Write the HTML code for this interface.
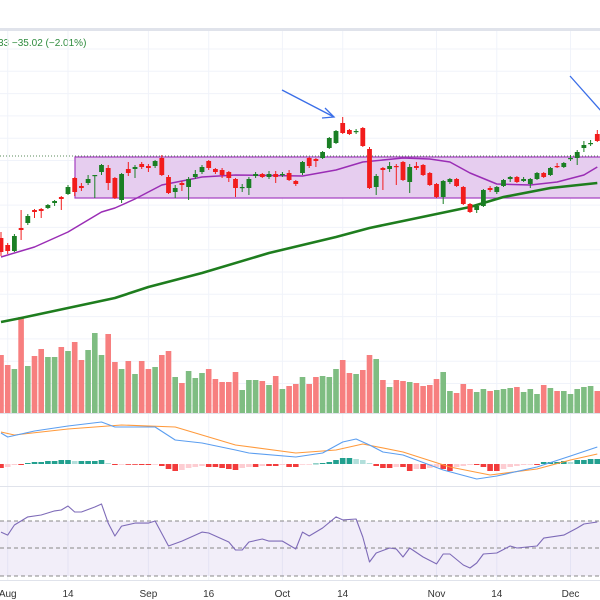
<!DOCTYPE html>
<html><head><meta charset="utf-8"><style>
html,body{margin:0;padding:0;background:#fff;}
svg{display:block;font-family:"Liberation Sans",sans-serif;}
</style></head><body>
<svg id="chart" width="600" height="600" viewBox="0 0 600 600" xmlns="http://www.w3.org/2000/svg">
<rect x="0" y="0" width="600" height="600" fill="#fff"/>
<rect x="0" y="28" width="600" height="3" fill="#e0e3eb"/>
<text x="-2" y="46" font-size="10" fill="#2e8b3e">33 &#8722;35.02 (&#8722;2.01%)</text>
<g id="grid"></g>
<rect x="75" y="157" width="530" height="41" fill="#e6cdef" stroke="#a43ec0" stroke-width="1.2"/>
<line x1="0" y1="156" x2="600" y2="156" stroke="#5a8a5a" stroke-width="1" stroke-dasharray="1,2"/>
<g id="vol"></g><g id="ma"></g><g id="candles"></g>
<g stroke="#3a6ee8" stroke-width="1.3" fill="none">
<line x1="282" y1="90" x2="334" y2="117"/><polyline points="325,108 334,117 322,118"/></g>
<g stroke="#3a6ee8" stroke-width="1.3" fill="none">
<line x1="570" y1="76" x2="602" y2="112"/></g>
<line x1="0" y1="413.5" x2="600" y2="413.5" stroke="#e0e3eb"/>
<g id="macd"></g>
<line x1="0" y1="486.5" x2="600" y2="486.5" stroke="#e0e3eb"/>
<rect x="0" y="521" width="600" height="55" fill="#7e57c2" fill-opacity="0.1"/>
<line x1="0" y1="521" x2="600" y2="521" stroke="#888" stroke-dasharray="4,3"/>
<line x1="0" y1="548" x2="600" y2="548" stroke="#888" stroke-dasharray="4,3"/>
<line x1="0" y1="576" x2="600" y2="576" stroke="#888" stroke-dasharray="4,3"/>
<g id="rsi"></g>
<line x1="0" y1="580.5" x2="600" y2="580.5" stroke="#e0e3eb"/>
<g id="xaxis"></g>
</svg>
<script>
const open=[162,155,149,172,177,190,191,192,197,203,206,222,214,217,224,228,232,222,200,231,231,236,234,234,242,223,208,217,213,223,228,239,231,230,228,221,212,212,224,226,223,226,225,227,219,227,242,241,242,252,257,277,270,268,272,251,213,232,231,234,238,218,234,235,227,216,203,218,221,213,196,190,194,212,208,214,221,223,219,216,221,227,225,234,233,241,242,252,256,266];
const high=[168,157,166,190,186,191,192,196,200,204,215,223,217,225,225,236,235,223,227,238,235,238,236,240,245,225,215,219,223,230,235,240,232,232,229,222,216,223,228,227,229,229,228,230,220,239,243,242,249,263,270,283,271,271,273,253,226,233,238,236,239,236,238,236,228,217,220,222,222,214,197,196,211,214,214,221,224,224,223,222,228,228,233,237,238,245,250,259,260,270];
const low=[144,146,148,160,175,182,182,191,194,190,205,204,209,215,202,225,210,201,197,224,222,231,228,232,224,206,202,209,200,221,226,230,226,222,218,203,208,205,222,222,221,217,223,219,214,225,232,233,241,251,256,266,265,266,253,211,205,210,228,215,219,207,230,224,214,202,196,216,213,195,187,187,193,208,206,213,218,217,218,212,220,222,224,232,232,239,235,248,254,258];
const close=[148,149,164,170,184,188,189,195,199,201,213,208,212,221,225,235,217,202,226,227,233,233,232,239,225,207,212,215,221,226,233,232,228,225,222,212,213,221,226,223,226,223,226,220,216,238,234,239,248,262,269,267,266,269,254,212,224,230,234,233,220,233,232,225,215,203,219,221,214,196,188,194,210,210,213,220,223,218,221,221,227,223,232,233,237,242,248,255,257,259];
const volume=[58,48,44,96,47,57,64,56,56,66,62,71,53,63,80,58,79,51,44,52,39,52,44,46,58,62,36,30,42,35,40,44,34,31,31,41,23,33,33,32,28,37,24,27,29,36,29,36,37,36,44,53,40,39,43,58,54,33,26,33,32,31,30,27,28,34,41,22,20,29,24,21,24,22,23,24,25,26,21,24,19,28,25,22,22,19,24,26,27,22];
const ma20Idx=[0,5,10,15,17,20,24,30,35,45,50,54,60,64,67,70,74,79,83,87,89];
const ma20=[143,153,168,188,192,201,215,223,225,224,230,238,242,241,238,227,216,215,218,225,233];
const ma50Idx=[0,3,10,17,22,30,40,50,55,60,70,75,82,89];
const ma50=[78,82,92,102,113,127,147,163,172,179,193,203,212,217];
const macdIdx=[0,1,5,10,15,17,23,26,30,35,37,44,48,51,53,55,57,60,66,71,74,80,85,89];
const macdLine=[31,27,33,38,42,37,37,24,21,14,11,7,11,22,25,19,12,9,-6,-15,-12,-3,8,17];
const signalIdx=[0,2,10,18,26,35,44,50,54,60,67,73,80,85,89];
const signalLine=[32,29,35,39,37,19,11,14,20,12,-3,-11,-5,4,10];
const hist=[-4,-3,-1,-1,1,2,2,3,3,4,4,3,3,3,3,4,1,-1,-0.5,-0.5,-0.5,-1,-1,-0.5,-2,-5,-7,-6,-4,-3,-2,-3,-3,-4,-5,-6,-4,-3,-3,-2,-2,-2,-1,-3,-3,-0.5,-0.3,0.5,1,2,4,6,6,5,4,1,-2,-4,-4,-3,-3,-7,-5,-5,-4,-3,-5,-7,-3,-2,-1,-1,-3,-7,-7,-5,-3,-2,-1,-0.5,-1,2,2,2,3,2,4,4,5,5];
const rsiIdx=[0,1,2,4,6,8,9,10,11,12,14,15,16,17,18,20,22,23,25,27,30,31,34,35,36,37,39,40,42,44,45,46,48,50,51,53,54,55,56,58,59,60,61,63,65,66,67,69,70,71,72,74,76,77,80,81,84,86,87,89];
const rsi=[61.7,59.5,66.9,72.8,74.2,77.2,77.9,80.8,76.4,76.4,80.1,82.3,68.3,58.8,66.1,68.3,68.3,69.8,51.5,55.1,61.7,61,54.4,48.5,48.5,54.4,56.6,55.1,55.1,49.3,61.7,58.8,64.7,72.8,70.6,71.3,58.1,39.7,46.3,50,49.3,43.4,50,43.4,38.3,45.6,45.6,37.5,35.3,39,45.6,46.3,51.5,50,51.5,57.3,59.5,64.7,67.6,69.1];
const tickLabels=["Aug","14","Sep","16","Oct","14","Nov","14","Dec"];
const tickIdx=[1,10,22,31,42,51,65,74,85];

const NS="http://www.w3.org/2000/svg";
const xS=i=>1+i*6.7;
const yP=p=>400-p;
const yV=v=>413-v;
const yM=m=>464-m;
const yR=r=>548-(r-50)*1.3625;
function mk(tag,attrs,parent){const e=document.createElementNS(NS,tag);for(const k in attrs)e.setAttribute(k,attrs[k]);document.getElementById(parent).appendChild(e);return e;}

// grid
for(let k=0;k<tickIdx.length;k++){
  const g=mk('line',{x1:xS(tickIdx[k]),x2:xS(tickIdx[k]),y1:31,y2:580,stroke:'#f0f3fa'},'grid');
  
  
}
for(let y=49;y<413;y+=22.3){
  const g=mk('line',{x1:0,x2:600,y1:y,y2:y,stroke:'#f0f3fa'},'grid');
  
  
}
// volume
for(let i=0;i<volume.length;i++){
  const up=close[i]>=open[i];
  const r=mk('rect',{x:xS(i)-2.8,y:yV(volume[i]),width:5.6,height:volume[i],fill:up?'#7fbd82':'#f77f7f'},'vol');
  
  
}
// MAs
function line(idx,vals,ys,stroke,w,parent,name){
  const pts=idx.map((ix,k)=>xS(ix).toFixed(1)+','+ys(vals[k]).toFixed(1)).join(' ');
  const p=mk('polyline',{points:pts,fill:'none',stroke:stroke,'stroke-width':w,'stroke-linejoin':'round'},parent);
  
  
}
line(ma50Idx,ma50,yP,'#1e7d1e',2.6,'ma','moving-average-50');
line(ma20Idx,ma20,yP,'#9a2db5',1.5,'ma','moving-average-20');
// candles
for(let i=0;i<open.length;i++){
  const up=close[i]>=open[i];const c=up?'#1a7f24':'#f21c1c';
  const x=xS(i);
  const w=mk('line',{x1:x,x2:x,y1:yP(high[i]),y2:yP(low[i]),stroke:c,'stroke-width':1},'candles');
  
  
  const t=Math.min(yP(open[i]),yP(close[i]));const h=Math.max(1.2,Math.abs(open[i]-close[i]));
  const b=mk('rect',{x:x-2.4,y:t,width:4.8,height:h,fill:c},'candles');
  
  
}
// MACD histogram
for(let i=0;i<hist.length;i++){
  const v=hist[i],pv=i?hist[i-1]:0;
  let c;if(v>=0)c=v>=pv?'#22a08f':'#b2dfdb';else c=v<=pv?'#f23b3b':'#fdcdd2';
  const b=mk('rect',{x:xS(i)-2.8,y:v>=0?yM(v):yM(0),width:5.6,height:Math.max(0.8,Math.abs(v)),fill:c},'macd');
  
  
}
line(signalIdx,signalLine,yM,'#ff9a3c',1.1,'macd','macd-signal-line');
line(macdIdx,macdLine,yM,'#5b9ef0',1.1,'macd','macd-line');
line(rsiIdx,rsi,yR,'#7e6bb8',1.1,'rsi','rsi-line');
// x axis
for(let k=0;k<tickLabels.length;k++){
  const t=mk('text',{x:xS(tickIdx[k]),y:597,'font-size':10,fill:'#333','text-anchor':'middle'},'xaxis');
  t.textContent=tickLabels[k];
  
  
}
</script>
</body></html>
